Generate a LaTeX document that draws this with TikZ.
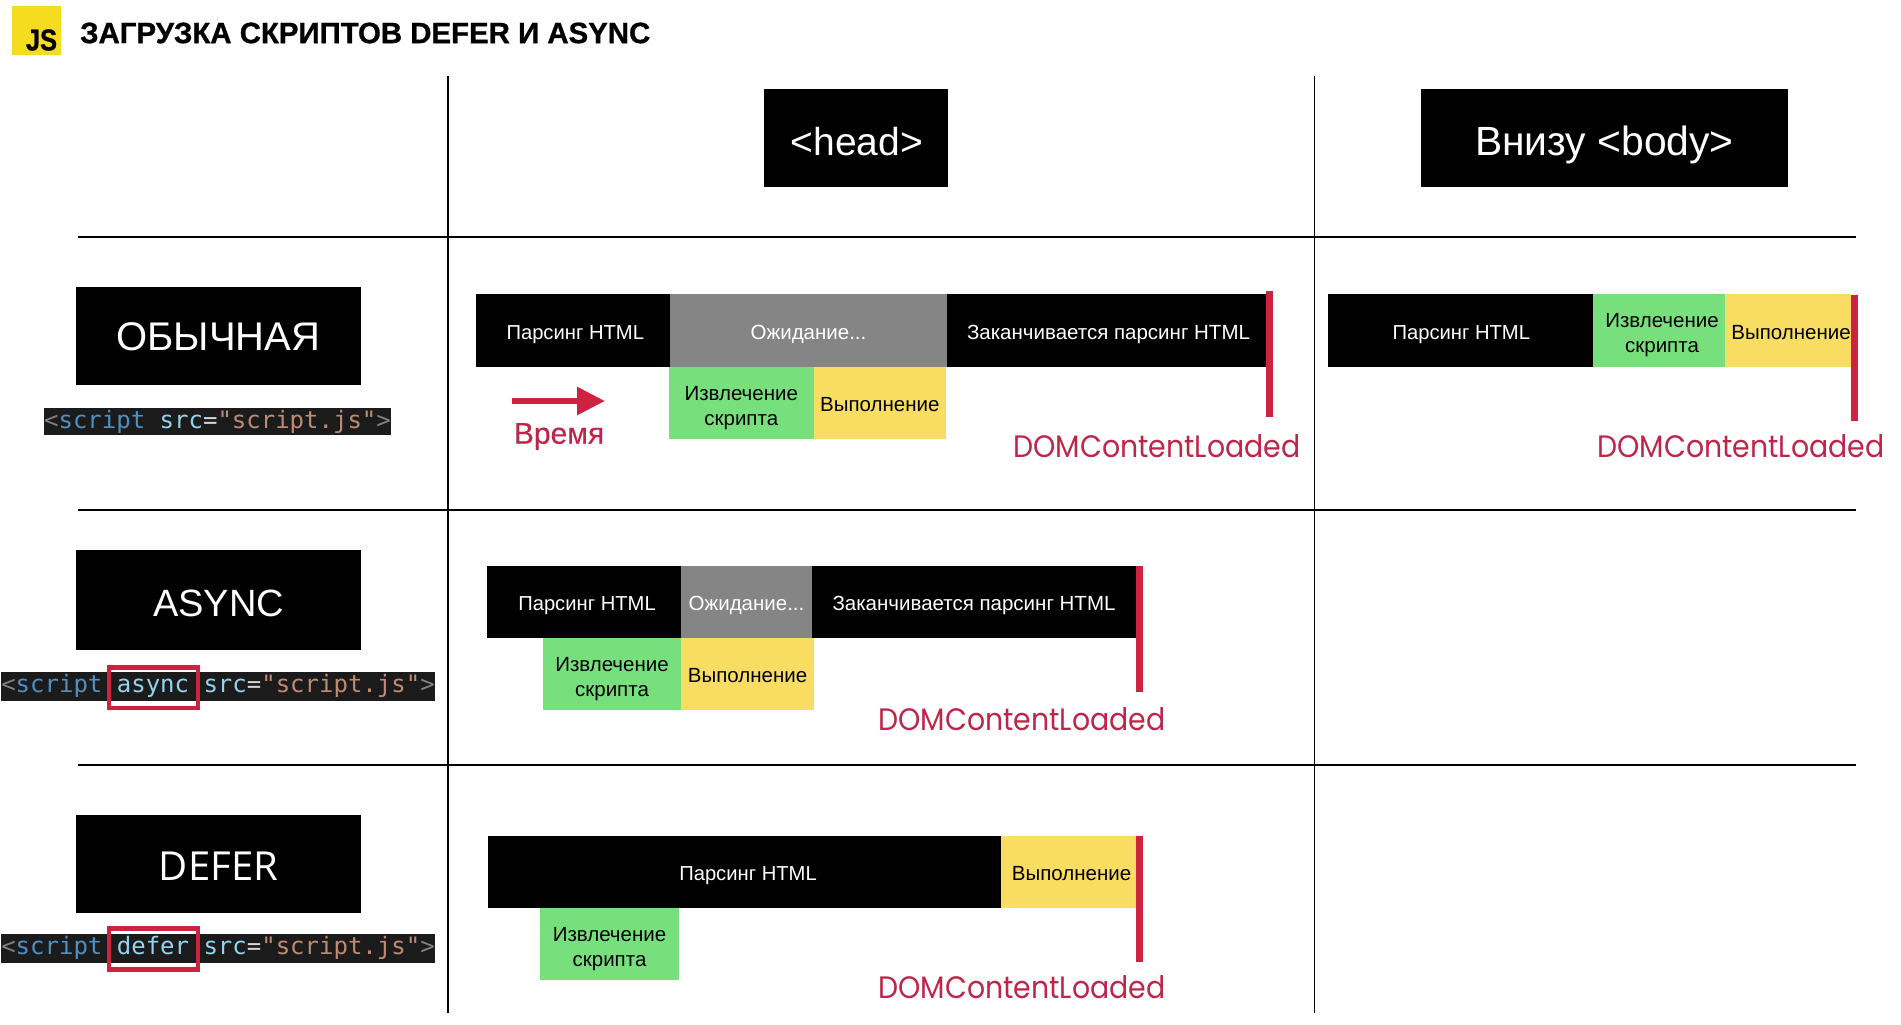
\documentclass[tikz,border=0pt]{standalone}
\usepackage{graphicx}
\usepackage{fontspec}
\setmainfont{Liberation Sans}
\newfontfamily\codefont{DejaVu Sans Mono}
\newfontfamily\domfont{Poppins}
\newfontfamily\deferfont{Open Sans}
\newfontfamily\titlefont[FakeBold=0.9]{Liberation Sans Bold}
\newfontfamily\timefont[FakeBold=0.3]{Liberation Sans}
\usetikzlibrary{arrows.meta}
\definecolor{jsyellow}{HTML}{F5DC1F}
\definecolor{segblack}{HTML}{000000}
\definecolor{seggrey}{HTML}{858585}
\definecolor{seggreen}{HTML}{77E07D}
\definecolor{segyellow}{HTML}{F9DC62}
\definecolor{markred}{HTML}{CE2240}
\definecolor{domred}{HTML}{BD2649}
\definecolor{codebg}{HTML}{1B1B1B}
\definecolor{cangle}{HTML}{808080}
\definecolor{ctag}{HTML}{4E8FC4}
\definecolor{cattr}{HTML}{93D3F0}
\definecolor{ceq}{HTML}{D4D4D4}
\definecolor{cstr}{HTML}{C08A70}
\newcommand{\fs}[1]{\fontsize{#1}{#1}\selectfont}
\newcommand{\seg}[7]{\node[#6,minimum width={(#4-#2)*1pt},minimum height={(#5-#3)*1pt}] (#1) at ({(#2+#4)/2},{(#3+#5)/2}) {#7};}
\newcommand{\angL}{\textcolor{cangle}{<}}
\newcommand{\angR}{\textcolor{cangle}{>}}
\newcommand{\srcpart}{\textcolor{cattr}{src}\textcolor{ceq}{=}\textcolor{cstr}{"script.js"}\angR}
\newcommand{\domtext}{\scalebox{0.915}[1]{DOMContentLoaded}}
\newcommand{\parsetext}[1]{\hspace*{#1}{\fs{20.2}Парсинг HTML}}
\tikzset{
  gridline/.style={draw=black,line width=2pt},
  gridv/.style={draw=black,line width=1.8pt},
  titlebox/.style={fill=black,text=white,inner sep=0pt,text depth=0pt,font=\fs{40}},
  segbase/.style={inner sep=0pt,align=center,text depth=0pt,text height=16pt,font=\fs{20.5}},
  seglow/.style={text height=19pt},
  blackseg/.style={segbase,fill=segblack,text=white},
  greyseg/.style={segbase,fill=seggrey,text=white},
  greenseg/.style={segbase,fill=seggreen,text=black,text height=44.5pt},
  yellowseg/.style={segbase,fill=segyellow,text=black},
  markbar/.style={fill=markred,inner sep=0pt},
  domlabel/.style={text=domred,inner sep=0pt,font=\domfont\fs{31}},
  codebar/.style={fill=codebg,inner sep=0pt,text depth=5.5pt,text height=20pt,font=\codefont\fs{24}},
  codeup/.style={text depth=8.5pt},
  redframe/.style={draw=markred,line width=4.5pt,inner sep=0pt},
}
\begin{document}
\begin{tikzpicture}[x=1pt,y=-1pt]
\useasboundingbox (0,0) rectangle (1901,1025);
% header
\seg{logo}{12}{6}{61}{55}{fill=jsyellow,inner sep=0pt}{}
\node[inner sep=0pt,font=\titlefont\fs{30}] (js) at (41.5,40) {\scalebox{0.85}[1]{JS}};
\node[anchor=west,inner sep=0pt,font=\titlefont\fs{29.4}] (title) at (80,33) {ЗАГРУЗКА СКРИПТОВ DEFER И ASYNC};
% grid
\draw[gridv] (448,76) -- (448,1013);
\draw[gridv] (1314.5,76) -- (1314.5,1013);
\draw[gridline] (78,236.5) -- (1856,236.5);
\draw[gridline] (78,509.5) -- (1856,509.5);
\draw[gridline] (78,765) -- (1856,765);
% column heads
\seg{head}{764}{89}{948}{187}{titlebox,text height=34pt,font=\fs{39}}{\hspace*{2pt}<head>}
\seg{body}{1421}{89}{1788}{187}{titlebox,text height=34pt,font=\fs{40.8}}{Внизу <body>}
% row heads
\seg{plain}{76}{287}{361}{385}{titlebox,text height=29pt}{ОБЫЧНАЯ}
\seg{async}{76}{550}{361}{650}{titlebox,text height=32pt,font=\fs{38}}{ASYNC}
\seg{defer}{76}{815}{361}{913}{titlebox,text height=33pt,font=\deferfont\fs{40}}{DEFER}
% code
\seg{codeA}{44}{408}{391}{435}{codebar}{\angL\textcolor{ctag}{script} \srcpart}
\seg{codeB}{1}{673}{435}{700}{codebar,codeup}{\angL\textcolor{ctag}{script} \textcolor{cattr}{async} \srcpart}
\seg{codeC}{1}{935}{435}{962}{codebar,codeup}{\angL\textcolor{ctag}{script} \textcolor{cattr}{defer} \srcpart}
\seg{frameB}{109}{667.5}{198}{708}{redframe}{}
\seg{frameC}{109}{928.5}{198}{969.5}{redframe}{}
% row 1 head
\seg{a1}{476}{294}{670}{366.5}{blackseg,seglow}{\parsetext{4.5pt}}
\seg{a2}{670}{294}{947}{366.5}{greyseg,seglow}{Ожидание...}
\seg{a3}{947}{294}{1266}{366.5}{blackseg,seglow}{\hspace*{4pt}Заканчивается парсинг HTML}
\seg{a4}{669}{367}{813.5}{439}{greenseg}{Извлечение\\[4.5pt]скрипта}
\seg{a5}{813.5}{367}{946}{439}{yellowseg}{Выполнение}
\seg{am}{1266}{291}{1273}{417}{markbar}{}
\node[domlabel] (ad) at (1157,446) {\domtext};
\coordinate (t0) at (512,401);
\coordinate (t1) at (605,401);
\draw[draw=markred,line width=6pt,-{Triangle[length=28pt,width=27pt]}] (t0) -- (t1);
\node[inner sep=0pt,text=domred,font=\timefont\fs{30}] (time) at (559,436.5) {Время};
% row 1 body
\seg{b1}{1328}{294}{1593}{366.5}{blackseg,seglow}{\parsetext{1.5pt}}
\seg{b2}{1593}{294}{1725}{366.5}{greenseg}{\hspace*{6pt}Извлечение\\[4.5pt]\hspace*{6pt}скрипта}
\seg{b3}{1725}{294}{1851}{366.5}{yellowseg,seglow}{\hspace*{6pt}Выполнение}
\seg{bm}{1851}{295}{1858}{421}{markbar}{}
\node[domlabel] (bd) at (1741,446) {\domtext};
% row 2
\seg{c1}{487}{566}{681}{638}{blackseg}{\parsetext{6pt}}
\seg{c2}{681}{566}{812}{638}{greyseg}{Ожидание...}
\seg{c3}{812}{566}{1136}{638}{blackseg}{Заканчивается парсинг HTML}
\seg{c4}{543}{638}{681}{710}{greenseg}{Извлечение\\[4.5pt]скрипта}
\seg{c5}{681}{638}{814}{710}{yellowseg}{Выполнение}
\seg{cm}{1136}{566}{1143}{692}{markbar}{}
\node[domlabel] (cd) at (1022,719) {\domtext};
% row 3
\seg{d1}{488}{836}{1001}{908}{blackseg}{\parsetext{7pt}}
\seg{d2}{1001}{836}{1136}{908}{yellowseg}{\hspace*{6pt}Выполнение}
\seg{dm}{1136}{836}{1143}{962}{markbar}{}
\seg{d3}{540}{908}{679}{980}{greenseg}{Извлечение\\[4.5pt]скрипта}
\node[domlabel] (dd) at (1022,987.5) {\domtext};
\end{tikzpicture}
\end{document}
